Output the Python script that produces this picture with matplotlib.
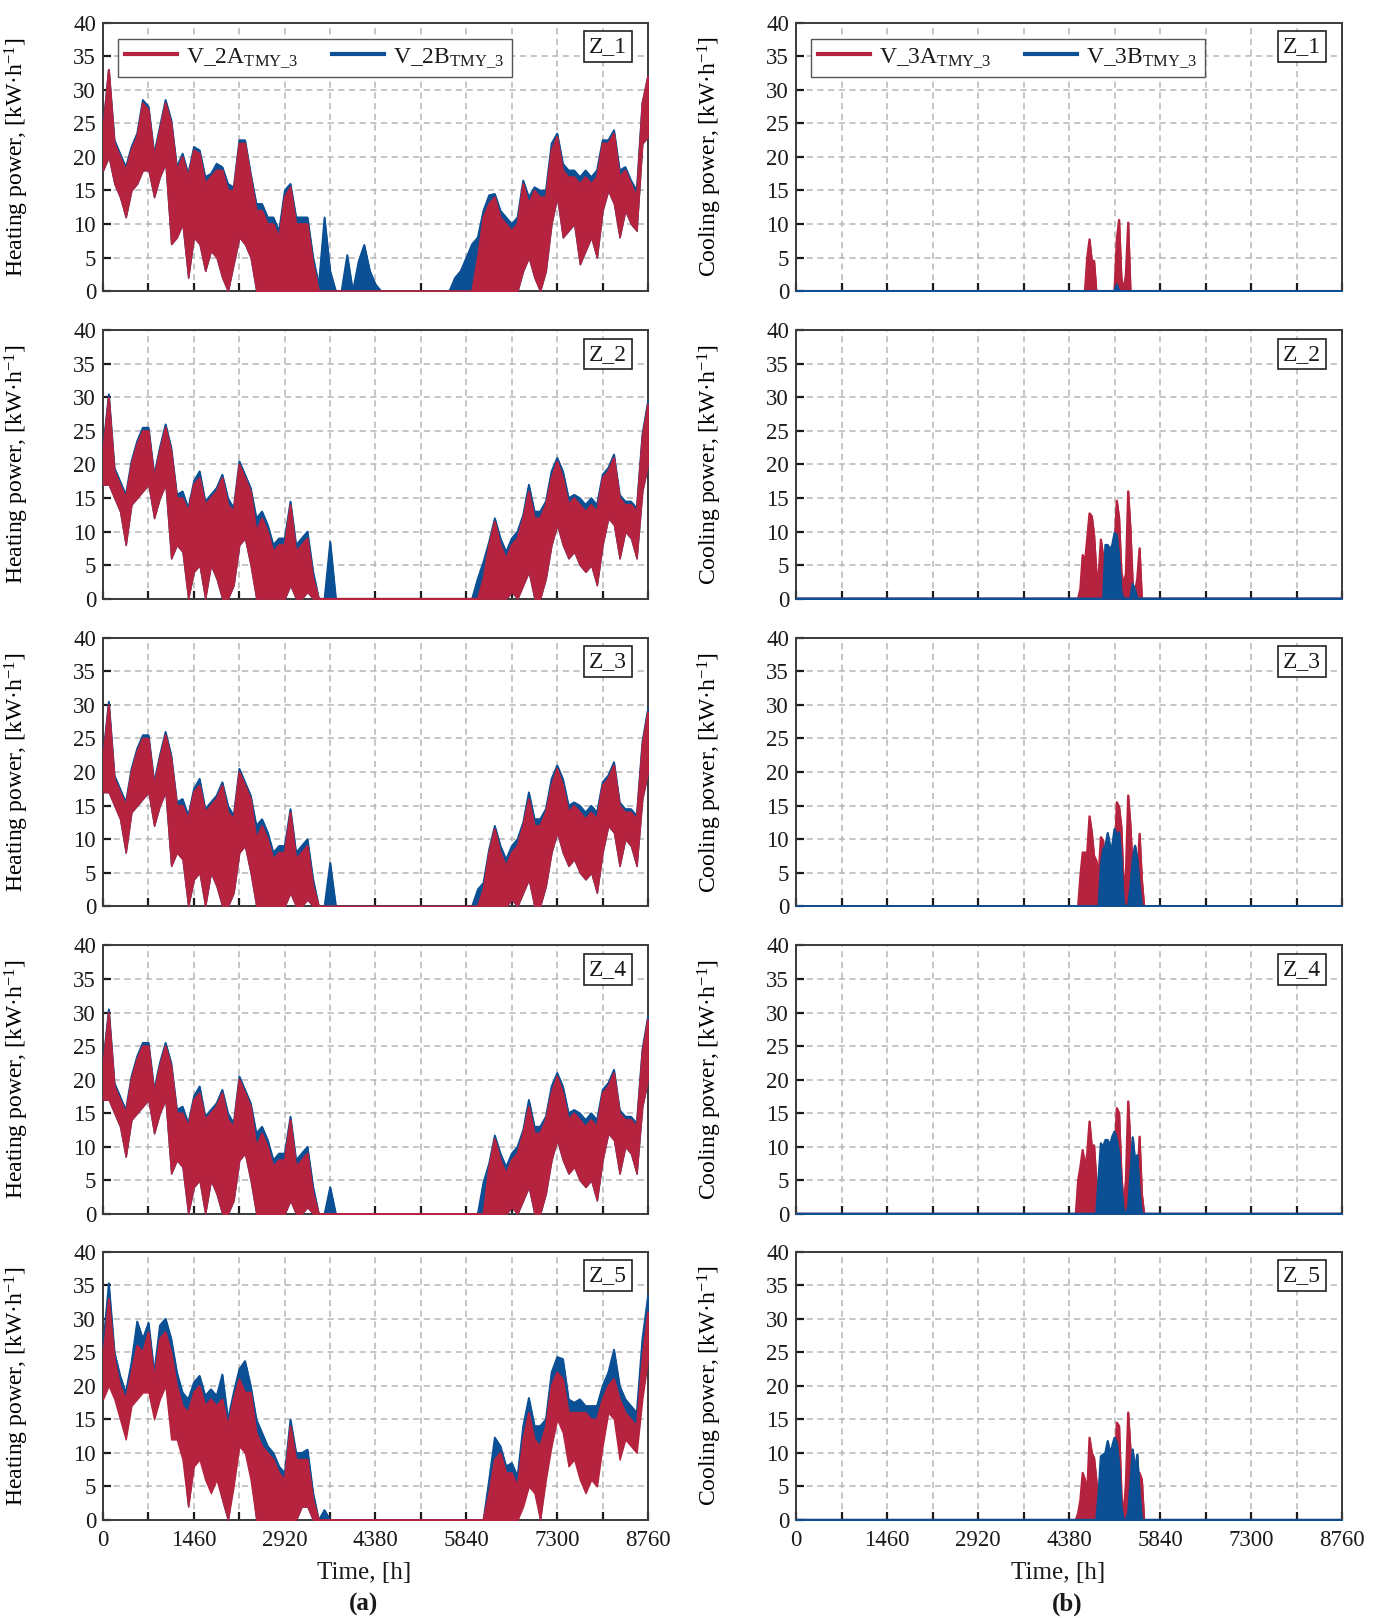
import numpy as np
import matplotlib
matplotlib.use("Agg")
import matplotlib.pyplot as plt
from matplotlib.lines import Line2D
from matplotlib.ticker import MultipleLocator, FuncFormatter

plt.rcParams.update({
    "font.family": ["Liberation Serif", "DejaVu Serif"],
    "mathtext.fontset": "custom",
    "mathtext.rm": "Liberation Serif",
    "mathtext.it": "Liberation Serif:italic",
    "mathtext.bf": "Liberation Serif:bold",
    "text.color": "#1a1a1a",
})

RED = "#b5233f"
BLUE = "#0b4f94"

# ---------------- heating: peak / trough per 91.25 h interval (0 ... 8760 h)
HOURS = np.arange(97) * 91.25

Z1_A_HI = ([24, 33, 22, 20, 18, 21, 23, 28, 27] + [20, 24, 28, 25, 18, 20, 17, 21]
           + [20.5, 16, 17, 18, 18, 15, 15, 22] + [22, 17, 12, 12, 10, 10, 8, 14]
           + [15.5, 10, 10, 10, 4] + [0] * 28 + [5, 11, 13, 14, 11, 10, 9]
           + [10, 16, 13, 15, 14, 14, 21, 23] + [18, 17, 17, 16, 17, 16, 17, 22]
           + [22, 23.5, 17, 18, 16, 14, 28, 32])
Z1_A_LO = ([18, 20, 16, 14, 11, 15, 16, 18, 18] + [14, 17, 19, 7, 8, 10, 2, 8]
           + [7, 3, 6, 5, 2, 0, 4, 8] + [7, 5, 0, 0, 0, 0, 0, 0]
           + [0] * 5 + [0] * 28 + [0] * 7
           + [0, 3, 5, 2, 0, 3, 10, 14] + [8, 9, 10, 4, 6, 8, 5, 12]
           + [15, 13, 8, 12, 10, 9, 22, 23])
Z1_B_HI = ([24.5, 33, 22.5, 20.5, 18.5, 21.5, 23.5, 28.5, 27.5]
           + [20.5, 24.5, 28.5, 25.5, 18.5, 20.5, 17.5, 21.5]
           + [21, 17, 17.5, 19, 18.5, 16, 15.5, 22.5] + [22.5, 17.5, 13, 13, 11, 11, 9, 15]
           + [16, 11, 11, 11, 5] + [1, 11, 3, 0, 0, 5.4, 0, 4.4, 6.9, 3, 1]
           + [0] * 13 + [2, 3, 5, 7] + [8, 12, 14.3, 14.5, 12, 11, 10]
           + [11, 16.5, 14, 15.5, 15, 15, 22, 23.5] + [19, 18, 18, 17, 18, 17, 18, 22.5]
           + [22.5, 24, 18, 18.5, 16.5, 15, 28, 32])
Z1_B_LO = ([18, 20, 16, 14, 11, 15, 16, 18, 18] + [14, 17, 19, 7, 8, 10, 2, 8]
           + [7, 3, 6, 5, 2, 0, 4, 8] + [7, 5, 0, 0, 0, 0, 0, 0]
           + [0] * 40
           + [0, 3, 5, 2, 0, 3, 10, 14] + [8, 9, 10, 4, 6, 8, 5, 12]
           + [15, 13, 8, 12, 10, 9, 22, 23])

Z2_A_HI = ([22, 30, 19, 17, 15, 20, 23, 25, 25] + [18, 22, 25.5, 22, 15, 15, 13, 17]
           + [18, 14, 15, 16, 18, 14, 13, 20] + [18, 16, 10, 12, 10, 7, 8, 8]
           + [14, 7, 8, 9, 3] + [0] * 29 + [3, 8, 11.5, 8, 6, 8]
           + [9, 12, 16, 12, 12, 14, 18, 20.5] + [18, 14, 15, 14, 13, 14, 13, 18]
           + [19, 21, 15, 14, 14, 13, 24, 29])
Z2_A_LO = ([17, 17, 15, 13, 8, 14, 15, 16, 17] + [12, 15, 17, 6, 8, 7, 0, 4]
           + [5, 0, 5, 3, 0, 0, 2, 8] + [9, 5, 0, 0, 0, 0, 0, 0]
           + [2, 0, 0, 1, 0] + [0] * 29 + [0, 0, 0, 0, 0, 1]
           + [0, 2, 4, 0, 0, 3, 8, 11] + [8, 6, 7, 5, 4, 5, 2, 8]
           + [12, 11, 6, 10, 9, 6, 16, 20])
Z2_B_HI = ([22.5, 30.5, 19.5, 17.5, 15.5, 20.5, 23.5, 25.5, 25.5]
           + [18.5, 22.5, 26, 22.5, 15.5, 16, 13.5, 17.5]
           + [19, 14.5, 15.5, 16.5, 18.5, 15, 13.5, 20.5] + [18.5, 16.5, 12, 13, 11, 8, 9, 9]
           + [14.5, 8, 9, 10, 4] + [0, 0, 8.5] + [0] * 24
           + [0, 3, 5.5, 8.5, 12, 9, 7, 9]
           + [10, 12.5, 17, 13, 13, 14.5, 19, 21] + [19, 15, 15.5, 15, 14, 15, 14, 18.5]
           + [19.5, 21.5, 15.5, 14.5, 14.5, 13.5, 24.5, 29.5])
Z2_B_LO = ([17, 17, 15, 13, 8, 14, 15, 16, 17] + [12, 15, 17, 6, 8, 7, 0, 4]
           + [5, 0, 5, 3, 0, 0, 2, 8] + [9, 5, 0, 0, 0, 0, 0, 0]
           + [2, 0, 0, 1, 0] + [0] * 29 + [0, 0, 0, 0, 0, 1]
           + [0, 2, 4, 0, 0, 3, 8, 11] + [8, 6, 7, 5, 4, 5, 2, 8]
           + [12, 11, 6, 10, 9, 6, 16, 20])

Z3_A_HI = ([22, 30, 19, 17, 15, 20, 23, 25, 25] + [18, 22, 25.5, 22, 15, 15, 13, 17]
           + [18, 14, 15, 16, 18, 14, 13, 20] + [18, 16, 10, 12, 10, 7, 8, 8]
           + [14, 7, 8, 9, 3] + [0] * 29 + [2.5, 8, 11.5, 8, 6, 8]
           + [9, 12, 16, 12, 12, 14, 18, 20.5] + [18, 14, 15, 14, 13, 14, 13, 18]
           + [19, 21, 15, 14, 14, 13, 24, 29])
Z3_A_LO = ([17, 17, 15, 13, 8, 14, 15, 16, 17] + [12, 15, 17, 6, 8, 7, 0, 4]
           + [5, 0, 5, 3, 0, 0, 2, 8] + [9, 5, 0, 0, 0, 0, 0, 0]
           + [2, 0, 0, 1, 0] + [0] * 29 + [0, 0, 0, 0, 0, 1]
           + [0, 2, 4, 0, 0, 3, 8, 11] + [8, 6, 7, 5, 4, 5, 2, 8]
           + [12, 11, 6, 10, 9, 6, 16, 20])
Z3_B_HI = ([22.5, 30.5, 19.5, 17.5, 15.5, 20.5, 23.5, 25.5, 25.5]
           + [18.5, 22.5, 26, 22.5, 15.5, 16, 13.5, 17.5]
           + [19, 14.5, 15.5, 16.5, 18.5, 15, 13.5, 20.5] + [18.5, 16.5, 12, 13, 11, 8, 9, 9]
           + [14.5, 8, 9, 10, 4] + [0, 0, 6.5] + [0] * 24
           + [0, 2.5, 3.5, 8.5, 12, 9, 7, 9]
           + [10, 12.5, 17, 13, 13, 14.5, 19, 21] + [19, 15, 15.5, 15, 14, 15, 14, 18.5]
           + [19.5, 21.5, 15.5, 14.5, 14.5, 13.5, 24.5, 29.5])
Z3_B_LO = ([17, 17, 15, 13, 8, 14, 15, 16, 17] + [12, 15, 17, 6, 8, 7, 0, 4]
           + [5, 0, 5, 3, 0, 0, 2, 8] + [9, 5, 0, 0, 0, 0, 0, 0]
           + [2, 0, 0, 1, 0] + [0] * 29 + [0, 0, 0, 0, 0, 1]
           + [0, 2, 4, 0, 0, 3, 8, 11] + [8, 6, 7, 5, 4, 5, 2, 8]
           + [12, 11, 6, 10, 9, 6, 16, 20])

Z4_A_HI = ([22, 30, 19, 17, 15, 20, 23, 25, 25] + [18, 22, 25, 22, 15, 15, 13, 17]
           + [18, 14, 15, 16, 18, 14, 13, 20] + [18, 16, 10, 12, 10, 7, 8, 8]
           + [14, 7, 8, 9, 3] + [0] * 29 + [0, 7, 11.2, 8, 6, 8]
           + [9, 12, 16, 12, 12, 14, 18, 20.5] + [18, 14, 15, 14, 13, 14, 13, 18]
           + [19, 21, 15, 14, 14, 13, 24, 29])
Z4_A_LO = ([17, 17, 15, 13, 8.5, 14, 15, 16, 17] + [12, 15, 17, 6, 8, 7, 0, 4]
           + [5, 0, 5, 3, 0, 0, 2, 8] + [9, 5, 0, 0, 0, 0, 0, 0]
           + [2, 0, 0, 1, 0] + [0] * 29 + [0, 0, 0, 0, 0, 1]
           + [0, 2, 4, 0, 0, 3, 8, 11] + [8, 6, 7, 5, 4, 5, 2, 8]
           + [12, 11, 6, 10, 9, 6, 16, 20])
Z4_B_HI = ([22.5, 30.5, 19.5, 17.5, 15.5, 20.5, 23.5, 25.5, 25.5]
           + [18.5, 22.5, 25.5, 22.5, 15.5, 16, 13.5, 17.5]
           + [19, 14.5, 15.5, 16.5, 18.5, 15, 13.5, 20.5] + [18.5, 16.5, 12, 13, 11, 8, 9, 9]
           + [14.5, 8, 9, 10, 4] + [0, 0, 4] + [0] * 24
           + [0, 0, 4.7, 7.5, 11.7, 9, 7, 9]
           + [10, 12.5, 17, 13, 13, 14.5, 19, 21] + [19, 15, 15.5, 15, 14, 15, 14, 18.5]
           + [19.5, 21.5, 15.5, 14.5, 14.5, 13.5, 24.5, 29.5])
Z4_B_LO = ([17, 17, 15, 13, 8.5, 14, 15, 16, 17] + [12, 15, 17, 6, 8, 7, 0, 4]
           + [5, 0, 5, 3, 0, 0, 2, 8] + [9, 5, 0, 0, 0, 0, 0, 0]
           + [2, 0, 0, 1, 0] + [0] * 29 + [0, 0, 0, 0, 0, 1]
           + [0, 2, 4, 0, 0, 3, 8, 11] + [8, 6, 7, 5, 4, 5, 2, 8]
           + [12, 11, 6, 10, 9, 6, 16, 20])

Z5_A_HI = ([24, 33, 24, 20, 18, 22, 26, 25, 28] + [21, 27, 28, 25, 20, 17, 16, 19]
           + [20, 17, 18, 17, 18, 14, 18, 21] + [19, 19, 13, 11, 10, 9, 7, 6]
           + [14, 9, 9, 9, 3] + [0] * 30 + [4, 9, 10, 7, 7]
           + [5, 12, 16, 12, 11, 14, 20, 22] + [21, 16, 16, 16, 16, 15, 15, 18]
           + [20, 21, 18, 16, 15, 14, 24, 31])
Z5_A_LO = ([18, 20, 18, 15, 12, 17, 18, 19, 19] + [15, 18, 20, 12, 12, 9, 2, 8]
           + [9, 6, 4, 6, 3, 0, 5, 11] + [10, 6, 0, 0, 0, 0, 0, 0]
           + [0, 0, 2, 2, 0] + [0] * 30 + [0] * 5
           + [0, 2, 5, 4, 0, 6, 11, 15] + [13, 8, 9, 6, 4, 6, 5, 11]
           + [16, 15, 9, 12, 11, 10, 18, 24])
Z5_B_HI = ([26, 35.3, 25, 21.5, 19, 23.5, 29.6, 27, 29.4] + [22, 29, 30, 27, 22, 19, 18, 20.5]
           + [21.5, 18.5, 19.5, 18.5, 21.7, 15, 19, 22.5] + [23.7, 20, 15, 13, 11, 10, 8, 7]
           + [15, 10, 10, 10.5, 4] + [0, 1.5, 0] + [0] * 27 + [6, 12.3, 11, 8, 8.5]
           + [6.5, 14, 18.2, 14, 14, 15, 22, 24.3] + [24, 18, 17.5, 18, 17, 17, 17, 20]
           + [22, 25.4, 20, 18, 17, 16, 27, 33.5])
Z5_B_LO = ([19, 21, 19, 16, 13, 18, 19, 20, 20] + [16, 19, 21, 13, 13, 10, 2, 9]
           + [10, 7, 5, 7, 3, 0, 6, 12] + [11, 7, 0, 0, 0, 0, 0, 0]
           + [0, 0, 2, 2, 0] + [0] * 30 + [0] * 5
           + [0, 3, 6, 5, 0, 7, 12, 16] + [14, 9, 10, 7, 5, 7, 6, 12]
           + [17, 16, 10, 13, 12, 11, 19, 25])

# ---------------- cooling: load per 36.5 h step between 4380 h and 5840 h (zero elsewhere)
COOL_HOURS = 4380 + np.arange(41) * 36.5

Z1_C_A = ([0] * 8 + [5, 7.7, 4.5, 4.5] + [0] * 9 + [7.7, 10.6, 2, 0, 2.5, 10.2] + [0] * 14)
Z1_C_B = ([0] * 21 + [1] + [0] * 19)
Z2_C_A = ([0] * 5 + [1.5, 6.5, 5.5, 9, 12.7, 12.3, 9.5, 4, 3.5, 8.8, 6.3, 3, 3, 3, 3, 8,
                     14.6, 12, 4, 2, 3.8, 16, 10.3, 2, 1, 3, 7.5] + [0] * 9)
Z2_C_B = ([0] * 16 + [8, 8, 7.3, 8, 9.8, 9.5, 6, 1, 0, 0, 0, 0, 2.2, 1.3] + [0] * 11)
Z3_C_A = ([0] * 5 + [4.5, 8, 8, 8, 13.4, 11, 7.5, 6.8, 4.5, 10.3, 9.8, 4, 4, 4, 4, 6,
                     15.5, 14.8, 11.8, 3, 5, 16.5, 12, 5, 9, 4, 10.8, 4] + [0] * 8)
Z3_C_B = ([0] * 14 + [6, 8.5, 9, 10.9, 9, 9, 11.5, 10.5, 11, 7, 0.5, 0, 0, 3, 7, 9, 7, 3]
          + [0] * 9)
Z4_C_A = ([0] * 4 + [5, 7, 9.5, 7, 9, 13.75, 10, 10.2, 5, 3, 4, 4, 4, 4, 4, 4, 8,
                     15.75, 15, 6, 1, 5, 16.75, 10, 5.5, 6, 4, 11.5, 3] + [0] * 8)
Z4_C_B = ([0] * 13 + [5.5, 10.5, 10, 11, 11, 10.2, 11.5, 12.25, 11, 9, 4, 0.5, 0, 1, 6,
                      11.4, 8, 8.75, 3] + [0] * 9)
Z5_C_A = ([0] * 4 + [1, 3, 7, 6, 4, 12.25, 10, 9.25, 6, 2, 4, 4, 4, 4, 4, 4, 6,
                     14.5, 14, 4, 0.5, 5.5, 16, 10.5, 3, 3, 2, 7, 6] + [0] * 8)
Z5_C_B = ([0] * 13 + [4, 9.5, 9.75, 10, 11.75, 10, 11, 12.25, 11.5, 8, 2, 0, 0, 1, 5.5,
                      10.5, 7.5, 9.75, 4] + [0] * 9)

ZONES = ["Z_1", "Z_2", "Z_3", "Z_4", "Z_5"]
HEATING = [
    (Z1_A_HI, Z1_A_LO, Z1_B_HI, Z1_B_LO),
    (Z2_A_HI, Z2_A_LO, Z2_B_HI, Z2_B_LO),
    (Z3_A_HI, Z3_A_LO, Z3_B_HI, Z3_B_LO),
    (Z4_A_HI, Z4_A_LO, Z4_B_HI, Z4_B_LO),
    (Z5_A_HI, Z5_A_LO, Z5_B_HI, Z5_B_LO),
]
COOLING = [(Z1_C_A, Z1_C_B), (Z2_C_A, Z2_C_B), (Z3_C_A, Z3_C_B),
           (Z4_C_A, Z4_C_B), (Z5_C_A, Z5_C_B)]
X_TICKS = [0, 1460, 2920, 4380, 5840, 7300, 8760]
Y_TICKS = [0, 5, 10, 15, 20, 25, 30, 35, 40]

HEAT_LABELS = [r"V_2A$_{\mathregular{TMY\_3}}$", r"V_2B$_{\mathregular{TMY\_3}}$"]
COOL_LABELS = [r"V_3A$_{\mathregular{TMY\_3}}$", r"V_3B$_{\mathregular{TMY\_3}}$"]

fig = plt.figure(figsize=(13.81, 16.18), dpi=100)
fig.patch.set_facecolor("white")

LEFT_X, LEFT_W = 0.0746, 0.3946
RIGHT_X, RIGHT_W = 0.5764, 0.3954
BOTTOMS = [0.8201, 0.6300, 0.4399, 0.2498, 0.0606]
HEIGHT = 0.1659


def style_axes(ax, bottom_row, ylabel):
    ax.set_xlim(0, 8760)
    ax.set_ylim(0, 40)
    ax.xaxis.set_major_locator(MultipleLocator(730))
    ax.xaxis.set_major_formatter(FuncFormatter(
        lambda v, p: f"{int(round(v))}" if int(round(v)) in X_TICKS else ""))
    ax.set_yticks(Y_TICKS)
    ax.grid(True, color="#b5b5b5", linestyle=(0, (4, 3)), linewidth=1.1)
    ax.set_axisbelow(True)
    ax.tick_params(direction="in", length=6, width=1.6, colors="#1a1a1a",
                   labelsize=16.5, pad=5, top=False, right=False)
    ax.tick_params(axis="x", labelbottom=bottom_row, pad=7)
    for s in ax.spines.values():
        s.set_color("#3a3a3a")
        s.set_linewidth(1.4)
    ax.set_ylabel(ylabel, fontsize=17)
    ax.yaxis.set_label_coords(-0.132, 0.5)


def zone_box(ax, name):
    ax.text(0.927, 0.911, name, transform=ax.transAxes, ha="center", va="center",
            fontsize=17, zorder=6,
            bbox=dict(boxstyle="square,pad=0.2", fc="white", ec="#222222", lw=1.2))


def add_legend(ax, labels):
    handles = [Line2D([], [], color=RED, lw=3), Line2D([], [], color=BLUE, lw=3)]
    leg = ax.legend(handles, labels, loc="upper left", bbox_to_anchor=(0.027, 0.94),
                    ncol=2, fontsize=17, frameon=True, fancybox=False, framealpha=1,
                    edgecolor="#555555", handlelength=2.2, handletextpad=0.4,
                    columnspacing=1.4, borderpad=0.3, borderaxespad=0)
    leg.get_frame().set_linewidth(1.0)
    leg.set_zorder(7)


for row in range(5):
    bottom_row = row == 4

    # heating column: band between interval troughs and peaks, B below A
    axh = fig.add_axes([LEFT_X, BOTTOMS[row], LEFT_W, HEIGHT])
    a_hi, a_lo, b_hi, b_lo = HEATING[row]
    for hi, lo, col in ((b_hi, b_lo, BLUE), (a_hi, a_lo, RED)):
        axh.fill_between(HOURS, lo, hi, color=col, linewidth=1.0, edgecolor=col, zorder=3)
        axh.plot(HOURS, hi, color=col, lw=1.1, zorder=3)
    style_axes(axh, bottom_row, r"Heating power, [kW·h$^{-1}$]")
    zone_box(axh, ZONES[row])

    # cooling column: A first, B drawn over it
    axc = fig.add_axes([RIGHT_X, BOTTOMS[row], RIGHT_W, HEIGHT])
    xc = np.concatenate(([0], COOL_HOURS, [8760]))
    for vals, col in ((COOLING[row][0], RED), (COOLING[row][1], BLUE)):
        yc = np.concatenate(([0], vals, [0]))
        axc.fill_between(xc, 0, yc, color=col, linewidth=0.8, edgecolor=col, zorder=3)
        axc.plot(xc, yc, color=col, lw=1.6, zorder=3)
    style_axes(axc, bottom_row, r"Cooling power, [kW·h$^{-1}$]")
    zone_box(axc, ZONES[row])

    if row == 0:
        add_legend(axh, HEAT_LABELS)
        add_legend(axc, COOL_LABELS)

fig.text(364 / 1381, 1 - 1573 / 1618, "Time, [h]", ha="center", va="center", fontsize=18)
fig.text(364 / 1381, 1 - 1604 / 1618, "(a)", ha="center", va="center", fontsize=18,
         fontweight="bold")
fig.text(1058 / 1381, 1 - 1573 / 1618, "Time, [h]", ha="center", va="center", fontsize=18)
fig.text(1067 / 1381, 1 - 1604 / 1618, "(b)", ha="center", va="center", fontsize=18,
         fontweight="bold")

fig.savefig("out.png", dpi=100, facecolor="white")
